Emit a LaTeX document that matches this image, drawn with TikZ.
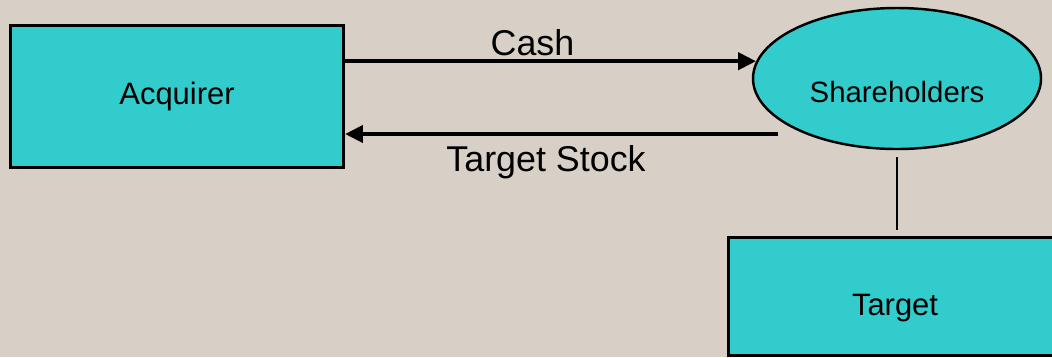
\documentclass[tikz,border=0pt]{standalone}
\usepackage{fontspec}
\setmainfont{Liberation Sans}
\usetikzlibrary{arrows.meta,shapes.geometric}
\definecolor{boxTeal}{RGB}{51,204,204}
\definecolor{slideBg}{RGB}{216,208,199}

\tikzset{
  party/.style={draw=black, line width=0.85pt, fill=boxTeal, inner sep=0pt},
  flow/.style={-{Triangle[length=5.1pt, width=4.8pt]}, line width=1.2pt},
  bigtext/.style={font=\fontsize{10.2pt}{12pt}\selectfont, inner sep=0pt},
  boxtext/.style={font=\fontsize{8.8pt}{10pt}\selectfont, inner sep=0pt}
}

\begin{document}
\begin{tikzpicture}

  % slide background, also fixes the page size
  \clip (0,0) rectangle (10.52,3.57);
  \fill[slideBg] (0,0) rectangle (10.52,3.57);

  % the three parties
  \node[party, boxtext, rectangle, minimum width=3.33cm, minimum height=1.42cm] (acq) at (1.77,2.605) {Acquirer};
  \node[party, ellipse, line width=0.7pt, minimum width=2.88cm, minimum height=1.41cm] (share) at (8.97,2.785) {};
  \node[boxtext, font=\fontsize{8.35pt}{10pt}\selectfont] (sharetext) at (8.97,2.653) {Shareholders};
  \node[party, rectangle, minimum width=3.34cm, minimum height=1.18cm] (target) at (8.95,0.61) {};
  \node[boxtext] (targettext) at (8.95,0.49) {Target};

  % cash goes out to the shareholders
  \draw[flow] (share.173 -| acq.east) -- (share.173);
  \node[bigtext] (cash) at (5.325,3.145) {Cash};

  % stock comes back
  \coordinate (stockstart) at (7.78,2.23);
  \draw[flow] (stockstart) -- (stockstart -| acq.east);
  \node[bigtext] (stock) at (5.46,1.947) {Target Stock};

  % shareholders own the target
  \draw[line width=0.6pt, shorten <=2pt, shorten >=1.7pt] (share.south) -- (share.south |- target.north);

\end{tikzpicture}
\end{document}
